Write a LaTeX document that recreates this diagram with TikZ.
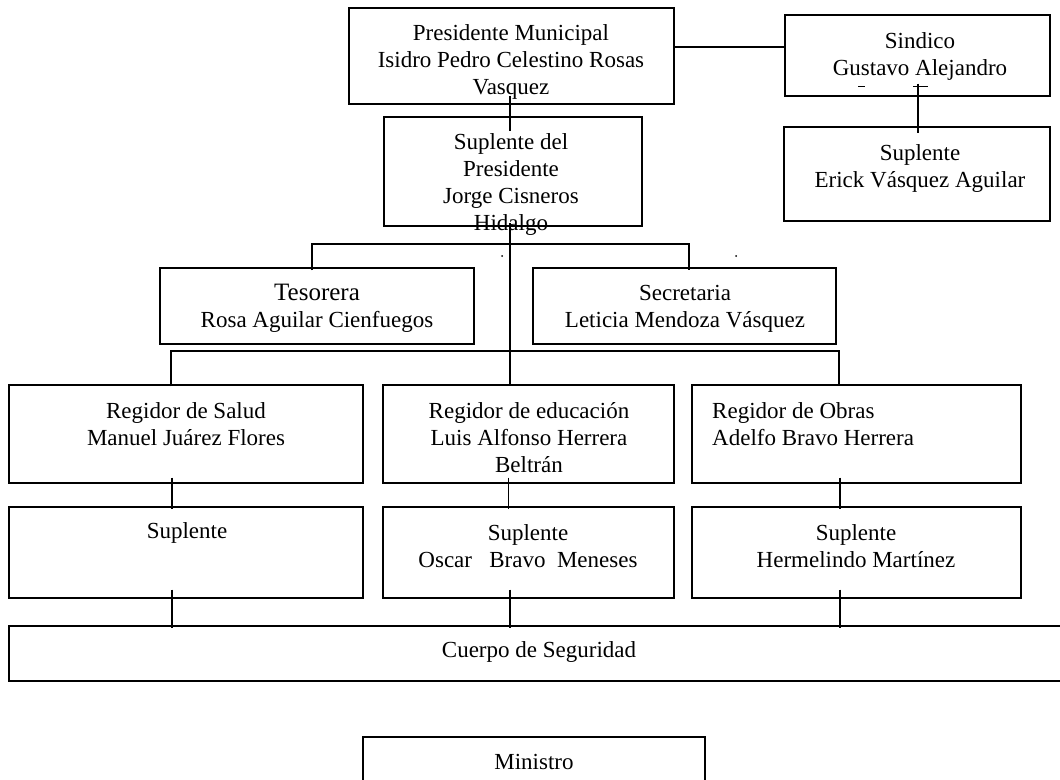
\documentclass[tikz,border=0pt]{standalone}
\usepackage{fontspec}
\setmainfont{Liberation Serif}
\begin{document}
\begin{tikzpicture}[x=1pt,y=-1pt,
  caja/.style={draw,line width=1.4pt,inner sep=0pt},
  texto/.style={align=center,inner sep=0pt,font=\fontsize{23}{27}\selectfont},
  linea/.style={line width=1.4pt}]
  \useasboundingbox (0,0) rectangle (1060,779);
  % cajas
  \node[caja,minimum width=325,minimum height=96] (pres) at (511.5,56) {};
  \node[caja,minimum width=265,minimum height=81] (sind) at (917.5,55.5) {};
  \node[caja,minimum width=258,minimum height=109] (supPres) at (513,171.5) {};
  \node[caja,minimum width=266,minimum height=94] (supSind) at (917,174) {};
  \node[caja,minimum width=314,minimum height=76] (tes) at (317,306) {};
  \node[caja,minimum width=303,minimum height=76] (sec) at (684.5,306) {};
  \node[caja,minimum width=354,minimum height=98] (regSal) at (186,434) {};
  \node[caja,minimum width=291,minimum height=98] (regEdu) at (528.5,434) {};
  \node[caja,minimum width=329,minimum height=98] (regObr) at (856.5,434) {};
  \node[caja,minimum width=354,minimum height=91] (supSal) at (186,552.5) {};
  \node[caja,minimum width=291,minimum height=91] (supEdu) at (528.5,552.5) {};
  \node[caja,minimum width=329,minimum height=91] (supObr) at (856.5,552.5) {};
  \node[caja,minimum width=1063,minimum height=55] (cuerpo) at (540.5,653.5) {};
  \node[caja,minimum width=342,minimum height=62] (min) at (534,768) {};
  % textos
  \node[texto] (tPres) at (511,61.5) {Presidente Municipal\\Isidro Pedro Celestino Rosas\\Vasquez};
  \node[texto] (tSind) at (920,56.5) {Sindico\\Gustavo Alejandro};
  \node[texto] (tSupPres) at (511,184) {Suplente del\\Presidente\\Jorge Cisneros\\Hidalgo};
  \node[texto] (tSupSind) at (920,168.5) {Suplente\\Erick Vásquez Aguilar};
  \node[texto] (tTes) at (317,308.5) {{\fontsize{25}{27}\selectfont Tesorera}\\Rosa Aguilar Cienfuegos};
  \node[texto] (tSec) at (685,308.5) {Secretaria\\Leticia Mendoza Vásquez};
  \node[texto] (tRegSal) at (186,424) {Regidor de Salud\\Manuel Juárez Flores};
  \node[texto] (tRegEdu) at (529,437.5) {Regidor de educación\\Luis Alfonso Herrera\\Beltrán};
  \node[texto,align=left,anchor=west] (tRegObr) at (712,424) {Regidor de Obras\\Adelfo Bravo Herrera};
  \node[texto] (tSupSal) at (187,533) {Suplente};
  \node[texto] (tSupEdu) at (528,546.5) {Suplente\\Oscar\ \ \ Bravo\ \ Meneses};
  \node[texto] (tSupObr) at (856,546.5) {Suplente\\Hermelindo Martínez};
  \node[texto] (tCuerpo) at (539,652) {Cuerpo de Seguridad};
  \node[texto] (tMin) at (534,762) {Ministro};
  % lineas
  \coordinate (ramaA) at (510,244);
  \coordinate (ramaB) at (510,351);
  \draw[linea] ([yshift=9pt]pres.east) -- ([yshift=8.5pt]sind.west);
  \draw[linea] ([xshift=-1.5pt,yshift=9pt]pres.south) -- ([xshift=-3pt,yshift=-15pt]supPres.north);
  \draw[linea] ([xshift=0.5pt,yshift=13pt]sind.south) -- ([xshift=1pt,yshift=-7pt]supSind.north);
  \draw[linea] ([xshift=-3pt,yshift=4pt]supPres.south) -- ([xshift=-18.5pt,yshift=-2pt]regEdu.north);
  \draw[linea] ([xshift=-5pt,yshift=-3pt]tes.north) |- (ramaA) -| ([xshift=4.5pt,yshift=-3pt]sec.north);
  \draw[linea] ([xshift=-15pt,yshift=-2pt]regSal.north) |- (ramaB) -| ([xshift=-17.5pt,yshift=-2pt]regObr.north);
  \foreach \n/\dx in {Sal/-14,Edu/-20,Obr/-16.5} {
    \draw[linea] ([xshift=\dx pt,yshift=6pt]reg\n.south) -- ([xshift=\dx pt,yshift=-3pt]sup\n.north);
  }
  \foreach \n/\dx in {Sal/-14,Edu/-18.5,Obr/-16.5} {
    \draw[linea] ([xshift=\dx pt,yshift=9pt]sup\n.south) -- ([xshift=\dx pt,yshift=-3pt]sup\n.south |- cuerpo.north);
  }
  % restos
  \draw[line width=1pt] (858,86) -- (865,86);
  \draw[line width=1pt] (913,86) -- (928,86);
  \fill (502,256) circle (1pt);
  \fill (736,256) circle (1pt);
\end{tikzpicture}
\end{document}
